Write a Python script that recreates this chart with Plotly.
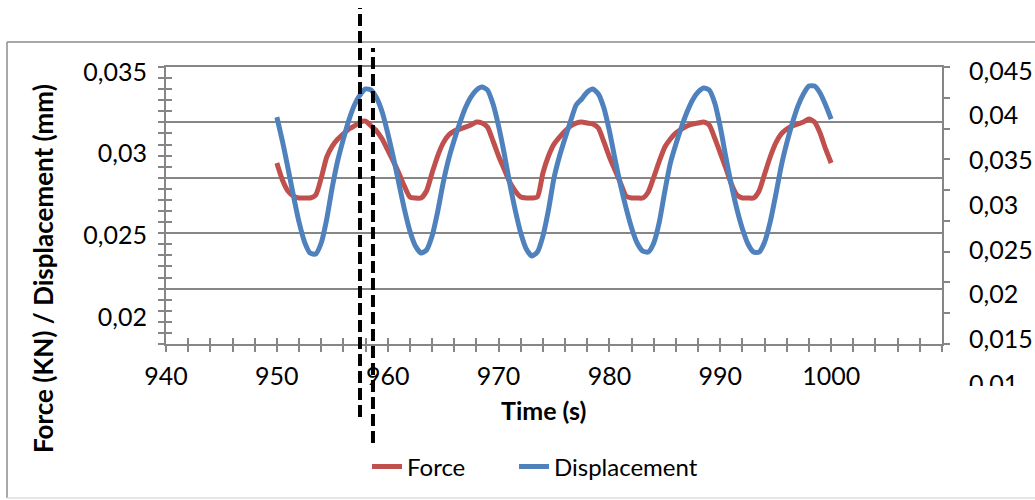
import plotly.graph_objects as go

# ---------------- data ----------------
time_s = [950 + 0.5 * i for i in range(101)]

force_kn = [
    0.02943, 0.02839, 0.02772, 0.02741, 0.02729, 0.02729, 0.02729, 0.02747, 0.02851, 0.02980,
    0.03047, 0.03090, 0.03121, 0.03151, 0.03170, 0.03194, 0.03200, 0.03170, 0.03139, 0.03090,
    0.03023, 0.02955, 0.02882, 0.02802, 0.02735, 0.02729, 0.02729, 0.02772, 0.02882, 0.02986,
    0.03065, 0.03114, 0.03139, 0.03151, 0.03163, 0.03176, 0.03194, 0.03188, 0.03163, 0.03078,
    0.02986, 0.02906, 0.02827, 0.02772, 0.02735, 0.02729, 0.02729, 0.02735, 0.02882, 0.02986,
    0.03059, 0.03102, 0.03139, 0.03170, 0.03188, 0.03194, 0.03188, 0.03182, 0.03157, 0.03072,
    0.02980, 0.02900, 0.02821, 0.02741, 0.02729, 0.02729, 0.02729, 0.02766, 0.02857, 0.02955,
    0.03041, 0.03090, 0.03127, 0.03151, 0.03170, 0.03182, 0.03188, 0.03194, 0.03176, 0.03096,
    0.03004, 0.02912, 0.02815, 0.02747, 0.02729, 0.02729, 0.02729, 0.02772, 0.02876, 0.02980,
    0.03065, 0.03121, 0.03151, 0.03170, 0.03182, 0.03194, 0.03212, 0.03194, 0.03127, 0.03029,
    0.02943,
]

displacement_mm = [
    0.03985, 0.03717, 0.03415, 0.03102, 0.02811, 0.02587, 0.02464, 0.02453, 0.02576, 0.02845,
    0.03202, 0.03504, 0.03739, 0.03952, 0.04120, 0.04232, 0.04299, 0.04287, 0.04198, 0.04041,
    0.03806, 0.03538, 0.03247, 0.02956, 0.02710, 0.02542, 0.02464, 0.02498, 0.02654, 0.02923,
    0.03247, 0.03516, 0.03728, 0.03918, 0.04086, 0.04209, 0.04287, 0.04321, 0.04287, 0.04131,
    0.03885, 0.03583, 0.03247, 0.02945, 0.02688, 0.02509, 0.02431, 0.02475, 0.02654, 0.02945,
    0.03303, 0.03549, 0.03751, 0.03941, 0.04120, 0.04187, 0.04265, 0.04299, 0.04243, 0.04086,
    0.03829, 0.03516, 0.03225, 0.02968, 0.02744, 0.02576, 0.02487, 0.02475, 0.02576, 0.02811,
    0.03158, 0.03471, 0.03683, 0.03874, 0.04041, 0.04176, 0.04265, 0.04310, 0.04287, 0.04142,
    0.03874, 0.03538, 0.03225, 0.02956, 0.02733, 0.02565, 0.02475, 0.02475, 0.02587, 0.02811,
    0.03113, 0.03437, 0.03695, 0.03918, 0.04108, 0.04243, 0.04332, 0.04332, 0.04254, 0.04120,
    0.03963,
]

x_tick_vals = [940, 950, 960, 970, 980, 990, 1000]
x_tick_text = ["940", "950", "960", "970", "980", "990", "1000"]
force_tick_vals = [0.02, 0.025, 0.03, 0.035]
force_tick_text = ["0,02", "0,025", "0,03", "0,035"]
disp_tick_vals = [0.01, 0.015, 0.02, 0.025, 0.03, 0.035, 0.04, 0.045]
disp_tick_text = ["0,01", "0,015", "0,02", "0,025", "0,03", "0,035", "0,04", "0,045"]
marker_times = [957.5, 958.67]

# ---------------- geometry helpers (pixels -> paper) ----------------
W, H = 1035, 500
ML, MR, MT, MB = 166, 93, 67, 100
PW = W - ML - MR          # 776
PH = H - MT - MB          # 333


def px_x(px):
    return (px - ML) / PW


def px_y(py):
    return (H - MB - py) / PH


GRID = "#868686"
FONT = "Lato"
tickfont = dict(family=FONT, size=25, color="black")
legfont = dict(family=FONT, size=24, color="black")
y_dom0 = px_y(344)

fig = go.Figure()

# empty helper traces so that the pure tick / grid axes get created
for xa, ya in [("x", "y"), ("x", "y2"), ("x3", "y"), ("x", "y4")]:
    fig.add_trace(go.Scatter(x=[None], y=[None], mode="lines", showlegend=False,
                             hoverinfo="skip", xaxis=xa, yaxis=ya))

fig.add_trace(go.Scatter(
    x=time_s, y=force_kn, name="Force", mode="lines",
    line=dict(color="#C0504D", width=5, shape="spline", smoothing=0.6),
    xaxis="x", yaxis="y3", hoverinfo="skip", legend="legend"))
fig.add_trace(go.Scatter(
    x=time_s, y=displacement_mm, name="Displacement", mode="lines",
    line=dict(color="#4F81BD", width=5, shape="spline", smoothing=0.6),
    xaxis="x2", yaxis="y5", hoverinfo="skip", legend="legend2"))

tick_common = dict(ticklen=6, tickwidth=1.5, tickcolor=GRID)

fig.update_layout(
    width=W, height=H,
    margin=dict(l=ML, r=MR, t=MT, b=MB, pad=0, autoexpand=False),
    paper_bgcolor="white", plot_bgcolor="rgba(0,0,0,0)",
    separators=", ",
    font=dict(family=FONT, color="black"),
    showlegend=True,
    legend=dict(orientation="h", x=px_x(367), xanchor="left",
                y=px_y(467), yanchor="middle", font=legfont,
                bgcolor="rgba(0,0,0,0)"),
    legend2=dict(orientation="h", x=px_x(514), xanchor="left",
                 y=px_y(467), yanchor="middle", font=legfont,
                 bgcolor="rgba(0,0,0,0)"),
    xaxis=dict(domain=[0, 1], range=[940, 1010], anchor="y", automargin=False,
               showline=True, mirror=True, linecolor=GRID, linewidth=1.5,
               showgrid=False, zeroline=False,
               tickmode="array", tickvals=x_tick_vals, ticktext=x_tick_text,
               ticks="outside", **tick_common,
               minor=dict(tickmode="linear", tick0=940, dtick=2, ticks="outside",
                          showgrid=False, **tick_common),
               tickfont=tickfont, ticklabelstandoff=3),
    xaxis3=dict(overlaying="x", anchor="y", range=[940, 1010], automargin=False,
                showline=False, showgrid=False, zeroline=False,
                showticklabels=False, tickmode="linear", tick0=940, dtick=2,
                ticks="inside", **tick_common),
    yaxis=dict(domain=[y_dom0, 1], range=[0, 25], anchor="x", automargin=False,
               showline=True, linecolor=GRID, linewidth=1.5,
               showgrid=True, gridcolor=GRID, gridwidth=1.5, zeroline=False,
               tickmode="linear", tick0=0, dtick=5, showticklabels=False,
               ticks="outside", **tick_common,
               minor=dict(tick0=0, dtick=1, ticks="outside", showgrid=False, **tick_common)),
    yaxis2=dict(overlaying="y", anchor="x", side="left", range=[0, 25], automargin=False,
                tickmode="linear", tick0=0, dtick=1, ticks="inside", **tick_common,
                showticklabels=False, showgrid=False, zeroline=False, showline=False),
    yaxis3=dict(overlaying="y", anchor="x", side="left", range=[0.01835, 0.03531],
                automargin=False,
                tickmode="array", tickvals=force_tick_vals, ticktext=force_tick_text,
                ticks="", showgrid=False, zeroline=False, showline=False,
                tickfont=tickfont, ticklabelstandoff=18),
    yaxis4=dict(overlaying="y", anchor="x", side="right", range=[0, 9], automargin=False,
                tickmode="linear", tick0=0, dtick=1, ticks="outside", **tick_common,
                showticklabels=False, showline=True, linecolor=GRID, linewidth=1.5,
                showgrid=False, zeroline=False),
    xaxis2=dict(domain=[0, 1], range=[940, 1010], anchor="y5", visible=False,
                automargin=False),
    yaxis5=dict(domain=[0, 1], anchor="x2", side="right", range=[0.00820, 0.04545],
                automargin=False,
                tickmode="array", tickvals=disp_tick_vals, ticktext=disp_tick_text,
                ticks="", showgrid=False, zeroline=False, showline=False,
                tickfont=tickfont, ticklabelstandoff=26),
)

# axis titles
fig.add_annotation(text="Force (KN) / Displacement (mm)", textangle=-90,
                   x=px_x(43), y=px_y(269), xref="paper", yref="paper",
                   xanchor="center", yanchor="middle", showarrow=False,
                   font=dict(family=FONT, size=26, color="black", weight="bold"))
fig.add_annotation(text="Time (s)", x=px_x(543), y=px_y(410), xref="paper", yref="paper",
                   xanchor="center", yanchor="middle", showarrow=False,
                   font=dict(family=FONT, size=25, color="black", weight="bold"))

# white mask clipping the lowest right-hand label, as in the original
fig.add_shape(type="rect", xref="paper", yref="paper",
              x0=px_x(948), x1=px_x(1040), y0=px_y(505), y1=px_y(386),
              fillcolor="white", line=dict(width=0), layer="above")

# outer frame
fig.add_shape(type="line", xref="paper", yref="paper", x0=px_x(7), x1=px_x(1040),
              y0=px_y(42), y1=px_y(42), line=dict(color="#8c8c8c", width=1.5), layer="above")
fig.add_shape(type="line", xref="paper", yref="paper", x0=px_x(7), x1=px_x(7),
              y0=px_y(42), y1=px_y(498), line=dict(color="#8c8c8c", width=1.5), layer="above")
fig.add_shape(type="line", xref="paper", yref="paper", x0=px_x(7), x1=px_x(1040),
              y0=px_y(498), y1=px_y(498), line=dict(color="#dcdcdc", width=1.5), layer="above")

# vertical dashed markers
for t, (ya, yb) in zip(marker_times, [(417, 8), (443, 48)]):
    fig.add_shape(type="line", xref="x", yref="paper", x0=t, x1=t,
                  y0=px_y(ya), y1=px_y(yb),
                  line=dict(color="black", width=4, dash="12px,5px"), layer="above")

fig.write_html("out.html")
